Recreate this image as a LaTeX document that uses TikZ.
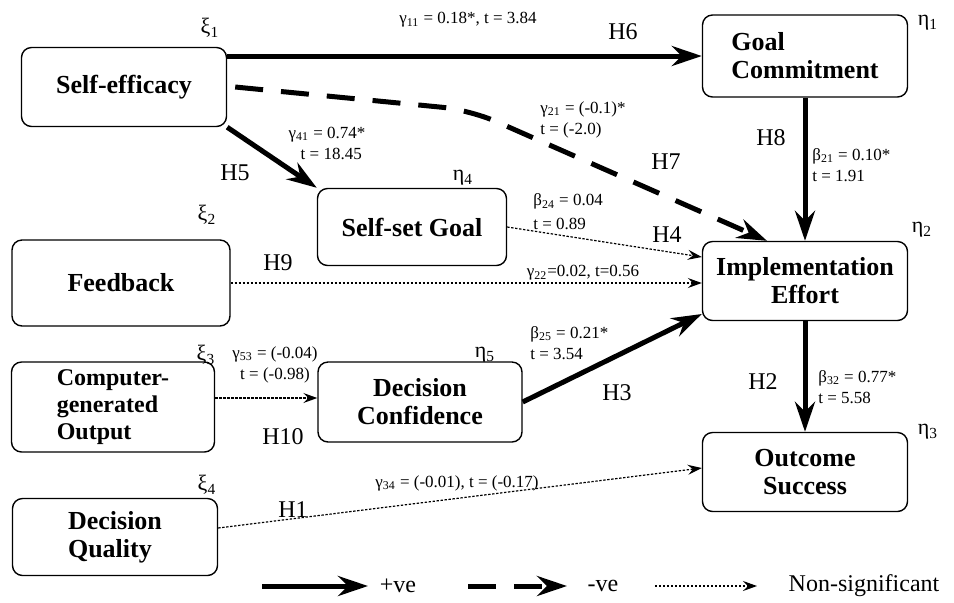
\documentclass[tikz,border=0pt]{standalone}
\usepackage{fontspec}
\setmainfont{Liberation Serif}
\usetikzlibrary{arrows.meta,positioning,calc}

\begin{document}
\begin{tikzpicture}[x=0.5pt, y=-0.5pt,
    box/.style={draw, rounded corners=5pt, line width=0.7pt, inner sep=2pt,
      minimum width=102.5pt, minimum height=39.5pt, align=center,
      font=\fontsize{13}{14}\selectfont\bfseries},
    lbl/.style={font=\fontsize{8.5}{10.5}\selectfont, inner sep=0pt},
    hyp/.style={font=\fontsize{12}{12}\selectfont, inner sep=0pt},
    var/.style={font=\fontsize{11}{11}\selectfont, inner sep=0pt},
    legtext/.style={font=\fontsize{12}{12}\selectfont, inner sep=0pt},
    posarrow/.style={line width=2.5pt, -{Stealth[length=15pt,width=10pt,inset=5pt]}},
    negarrow/.style={line width=2.5pt, dash pattern=on 14pt off 9pt,
      -{Stealth[length=15pt,width=10pt,inset=5pt]}},
    nsarrow/.style={line width=0.6pt, dash pattern=on 1.2pt off 0.8pt,
      -{Stealth[length=7pt,width=5pt,inset=2.5pt]}}]

  \useasboundingbox (0,0) rectangle (954,602);

  %--- constructs
  \node[box] (se) at (124,87) {Self-efficacy};
  \node[box, align=left, minimum height=41pt] (gc) at (805,56) {Goal\\Commitment};
  \node[box, minimum width=94.5pt, minimum height=38.5pt] (ssg) at (412,227) {Self-set Goal};
  \node[box, minimum width=109pt, minimum height=43pt] (fb) at (121,283) {Feedback};
  \node[box] (ie) at (805,281) {Implementation\\Effort};
  \node[box, align=left, minimum width=101.5pt, minimum height=45pt,
        font=\fontsize{12}{13.5}\selectfont\bfseries] (cg) at (113,407)
    {Computer-\\generated\\Output};
  \node[box, minimum width=102pt, minimum height=40pt] (dc) at (420,402) {Decision\\Confidence};
  \node[box] (os) at (805,472) {Outcome\\Success};
  \node[box, align=left, minimum height=38.5pt] (dq) at (115,537) {Decision\\Quality};

  %--- latent variable symbols
  \node[var] (xi1) at (210,28) {ξ\textsubscript{1}};
  \node[var] (eta1) at (928,23) {η\textsubscript{1}};
  \node[var] (eta4) at (463,178) {η\textsubscript{4}};
  \node[var] (xi2) at (207,215) {ξ\textsubscript{2}};
  \node[var] (eta2) at (922,230) {η\textsubscript{2}};
  \node[var] (xi3) at (206,355) {ξ\textsubscript{3}};
  \node[var] (eta5) at (485,355) {η\textsubscript{5}};
  \node[var] (eta3) at (928,432) {η\textsubscript{3}};
  \node[var] (xi4) at (207,485) {ξ\textsubscript{4}};

  %--- paths
  \coordinate (bend) at (470,110);
  \coordinate (cgout) at ($(cg.east)+(0,-9)$);
  \coordinate (dqout) at ($(dq.east)+(0,-9)$);
  \draw[posarrow] (se.north east |- gc.west) -- (gc.west);
  \draw[negarrow, rounded corners=14pt] ($(se.east)+(8,0)$) -- (bend) -- ($(ie.north)+(-38,0)$);
  \draw[posarrow] (se.south east) -- (ssg.north west);
  \draw[posarrow] (gc.south) -- (ie.north);
  \draw[nsarrow] (ssg.east) -- ($(ie.west)+(0,-24)$);
  \draw[nsarrow] (fb.east) -- (fb.east -| ie.west);
  \draw[nsarrow] (cgout) -- (cgout -| dc.west);
  \draw[posarrow] (dc.east) -- ($(ie.west)+(0,33)$);
  \draw[posarrow] (ie.south) -- (os.north);
  \draw[nsarrow] (dqout) -- ($(os.west)+(0,-4)$);

  %--- path coefficients
  \node[lbl] (g11) at (468,20) {γ\textsubscript{11} = 0.18*, t = 3.84};
  \node[lbl, anchor=west, align=left] (g21) at (540,120) {γ\textsubscript{21} = (-0.1)*\\t = (-2.0)};
  \node[lbl, align=center] (g41) at (327,143) {γ\textsubscript{41} = 0.74*\\\ \ t = 18.45};
  \node[lbl, anchor=west, align=left] (b21) at (812,165) {β\textsubscript{21} = 0.10*\\t = 1.91};
  \node[lbl, anchor=west, align=left, font=\fontsize{8.5}{12}\selectfont] (b24) at (533,212)
    {β\textsubscript{24} = 0.04\\t = 0.89};
  \node[lbl] (g22) at (583,273) {γ\textsubscript{22}=0.02, t=0.56};
  \node[lbl, anchor=west, align=left] (b25) at (530,343) {β\textsubscript{25} = 0.21*\\t = 3.54};
  \node[lbl, align=center] (g53) at (275,365) {γ\textsubscript{53} = (-0.04)\\t = (-0.98)};
  \node[lbl, anchor=west, align=left] (b32) at (818,387) {β\textsubscript{32} = 0.77*\\t = 5.58};
  \node[lbl] (g34) at (457,483) {γ\textsubscript{34} = (-0.01), t = (-0.17)};

  %--- hypotheses
  \node[hyp] (h6) at (623,32) {H6};
  \node[hyp] (h7) at (666,162) {H7};
  \node[hyp] (h5) at (235,173) {H5};
  \node[hyp] (h8) at (771,138) {H8};
  \node[hyp] (h4) at (667,235) {H4};
  \node[hyp] (h9) at (278,263) {H9};
  \node[hyp] (h3) at (617,393) {H3};
  \node[hyp] (h10) at (283,437) {H10};
  \node[hyp] (h2) at (763,382) {H2};
  \node[hyp] (h1) at (293,510) {H1};

  %--- legend
  \coordinate (lpa) at (262,586);
  \coordinate (lpb) at (368,586);
  \coordinate (lna) at (468,586);
  \coordinate (lnb) at (567,586);
  \coordinate (lsa) at (655,586);
  \coordinate (lsb) at (757,586);
  \draw[posarrow] (lpa) -- (lpb);
  \draw[negarrow] (lna) -- (lnb);
  \draw[nsarrow] (lsa) -- (lsb);
  \node[legtext] (lpt) at (398,586) {+ve};
  \node[legtext] (lnt) at (603,586) {-ve};
  \node[legtext] (lst) at (864,586) {Non-significant};

\end{tikzpicture}
\end{document}
